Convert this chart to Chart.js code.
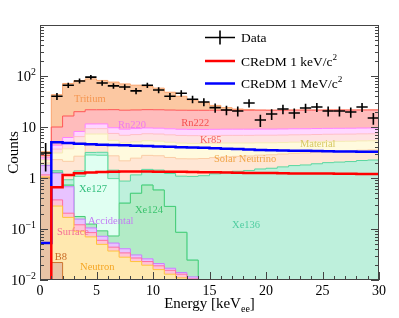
<!DOCTYPE html>
<html>
<head>
<meta charset="utf-8">
<script src="https://cdn.jsdelivr.net/npm/chart.js@4.4.1/dist/chart.umd.min.js"></script>
<style>
  html, body { margin: 0; padding: 0; background: #fff; }
</style>
</head>
<body>
<canvas id="myChart" width="399" height="318"></canvas>
<script>
// 1 keV bins, 0-30 keV
var nBins = 30;
var dataCounts = [3.1, 40, 66, 80, 95, 73, 64, 61, 51, 66, 53, 40, 46, 35, 31, 24, 21.6, 20.6, 29.5, 13.7,
                  18, 22.5, 18.8, 23.6, 24.7, 20.6, 20.6, 19.7, 24.7, 15];
var credm1keV = [0, 0.66, 1.15, 1.24, 1.28, 1.31, 1.33, 1.34, 1.34, 1.34, 1.33, 1.33, 1.32, 1.31, 1.3, 1.29,
                 1.28, 1.27, 1.26, 1.25, 1.25, 1.24, 1.23, 1.23, 1.22, 1.22, 1.21, 1.21, 1.2, 1.2];
var credm1MeV = [0.053, 5.0, 4.85, 4.7, 4.6, 4.5, 4.45, 4.38, 4.3, 4.22, 4.15, 4.08, 4.0, 3.95, 3.9, 3.82,
                 3.75, 3.7, 3.62, 3.55, 3.5, 3.47, 3.44, 3.41, 3.38, 3.35, 3.32, 3.3, 3.28, 3.26];

// background components, bottom of the stack first
var b8 = [1.0, 0.022, 0.004, 0.001, 0, 0, 0, 0, 0, 0, 0, 0, 0, 0, 0, 0, 0, 0, 0, 0, 0, 0, 0, 0, 0, 0, 0, 0, 0, 0];
var neutron = [0.05, 0.26, 0.165, 0.09, 0.07, 0.05, 0.037, 0.028, 0.023, 0.0195, 0.016, 0.013, 0.011, 0.009, 0.0075,
               0.006, 0.005, 0.004, 0.0033, 0.0027, 0.0022, 0.0018, 0.0015, 0.0012, 0.001, 0.0008, 0.0007, 0.0006, 0.0005, 0.0004];
var surface = [0.1, 0.09, 0.035, 0.03, 0.015, 0.01, 0.007, 0.006, 0.004, 0.0035, 0.003, 0.0025, 0.002, 0.0015, 0.0013,
               0.001, 0.0008, 0.0006, 0.0005, 0.0004, 0.0003, 0.0003, 0.0002, 0.0002, 0.0002, 0.0001, 0.0001, 0.0001, 0.0001, 0.0001];
var accidental = [0.6, 0.87, 0.47, 0.035, 0.02, 0.012, 0.009, 0.007, 0.004, 0.003, 0.002, 0.0015, 0.001, 0.001, 0.0008,
                  0.0006, 0.0005, 0.0004, 0.0003, 0.0003, 0.0002, 0.0002, 0.0002, 0.0001, 0.0001, 0.0001, 0.0001, 0.0001, 0.0001, 0.0001];
var xe124 = [0.005, 0.05, 0.05, 0.02, 0.02, 0.02, 0.02, 0.28, 0.47, 0.7, 0.56, 0.26, 0.072, 0.013, 0,
             0, 0, 0, 0, 0, 0, 0, 0, 0, 0, 0, 0, 0, 0, 0];
var xe127 = [0, 0, 0, 0.9, 2.7, 2.7, 0.9, 0, 0, 0, 0, 0, 0, 0, 0, 0, 0, 0, 0, 0, 0, 0, 0, 0, 0, 0, 0, 0, 0, 0];
var xe136 = [0.02, 0.1, 0.2, 0.3, 0.35, 0.4, 0.45, 0.55, 0.65, 0.75, 0.85, 0.95, 1.0, 1.05, 1.1,
             1.2, 1.3, 1.35, 1.4, 1.5, 1.55, 1.65, 1.75, 1.8, 1.9, 2.0, 2.05, 2.1, 2.2, 2.25];
var solarNu = [0.2, 0.9, 1.2, 1.3, 1.3, 1.3, 1.3, 1.3, 1.3, 1.3, 1.3, 1.3, 1.3, 1.3, 1.3,
               1.3, 1.3, 1.3, 1.3, 1.3, 1.3, 1.3, 1.3, 1.3, 1.3, 1.3, 1.3, 1.3, 1.3, 1.3];
var material = [0.2, 0.8, 1.6, 2.2, 2.8, 2.8, 2.75, 2.7, 2.65, 2.6, 2.55, 2.5, 2.45, 2.4, 2.35,
                2.3, 2.25, 2.2, 2.15, 2.1, 2.05, 2.0, 1.98, 1.95, 1.93, 1.9, 1.88, 1.86, 1.84, 1.82];
var kr85 = [0.15, 0.6, 1.2, 1.6, 2, 2, 2, 2, 2, 2, 2, 2, 2, 2, 2, 2, 2, 2, 2, 2, 2, 2, 2, 2, 2, 2, 2, 2, 2, 2];
var rn220 = [0.15, 0.7, 1.3, 1.7, 2.2, 2.2, 2.2, 2.2, 2.2, 2.2, 2.2, 2.2, 2.2, 2.2, 2.2,
             2.2, 2.2, 2.2, 2.2, 2.2, 2.2, 2.2, 2.2, 2.2, 2.2, 2.2, 2.2, 2.2, 2.2, 2.2];
var rn222 = [0.3, 5.6, 10.2, 11.8, 10.3, 10.3, 12.2, 12.3, 12.3, 12.3, 12.3, 12.3, 12.3, 12.3, 12.3,
             12.3, 12.3, 12.3, 12.3, 12.3, 12.2, 12.2, 12.2, 12.2, 12.1, 12.1, 12.1, 12.0, 12.0, 12.0];
var tritium = [0.5, 33, 55, 61, 66, 60, 54, 48.6, 44.4, 41, 36, 26.5, 18.7, 12.7, 8.7, 5.2, 2.6, 1.1, 0.5, 0,
               0, 0, 0, 0, 0, 0, 0, 0, 0, 0];

var xTicks = [0, 5, 10, 15, 20, 25, 30];
var yTicks = [0.01, 0.1, 1, 10, 100];
var yTickLabels = [['10', '\u22122'], ['10', '\u22121'], ['1', ''], ['10', ''], ['10', '2']];

// name, values, fill, line, label x (keV), label y (counts), label colour
var components = [
    ['B8', b8, 'rgb(232,196,166)', 'rgb(205,115,45)', 1.3, 0.028, 'rgb(200,105,35)'],
    ['Neutron', neutron, 'rgb(255,232,175)', 'rgb(255,195,60)', 3.55, 0.018, 'rgb(245,165,35)'],
    ['Surface', surface, 'rgb(255,195,215)', 'rgb(255,110,160)', 1.5, 0.087, 'rgb(245,110,150)'],
    ['Accidental', accidental, 'rgb(232,195,255)', 'rgb(200,125,255)', 4.25, 0.143, 'rgb(195,125,245)'],
    ['Xe124', xe124, 'rgb(178,235,198)', 'rgb(70,205,120)', 8.4, 0.236, 'rgb(60,195,110)'],
    ['Xe127', xe127, 'rgb(224,255,242)', 'rgb(95,220,160)', 3.45, 0.61, 'rgb(50,190,125)'],
    ['Xe136', xe136, 'rgb(190,240,220)', 'rgb(90,215,160)', 17.0, 0.12, 'rgb(80,205,160)'],
    ['Solar Neutrino', solarNu, 'rgb(255,230,212)', 'rgb(250,205,165)', 15.4, 2.36, 'rgb(240,165,70)'],
    ['Material', material, 'rgb(255,250,222)', 'rgb(245,235,180)', 23.0, 4.6, 'rgb(215,200,100)'],
    ['Kr85', kr85, 'rgb(255,226,226)', 'rgb(255,190,200)', 14.15, 5.56, 'rgb(245,95,95)'],
    ['Rn220', rn220, 'rgb(255,215,255)', 'rgb(255,130,255)', 6.9, 11, 'rgb(240,120,240)'],
    ['Rn222', rn222, 'rgb(255,188,188)', 'rgb(255,85,85)', 12.5, 12, 'rgb(245,80,80)'],
    ['Tritium', tritium, 'rgb(252,200,162)', 'rgb(250,165,110)', 3.0, 35, 'rgb(245,150,80)']
];

// log axis drops zeros, so empty bins get a floor far below the visible range
function steps(vals) {
    var pts = vals.map(function (v, i) { return { x: i, y: Math.max(v, 1e-6) }; });
    pts.push({ x: vals.length, y: pts[pts.length - 1].y });
    return pts;
}

var datasets = [
    { label: 'CReDM 1 keV/c2', data: steps(credm1keV), stack: 'sig1', borderColor: 'rgb(255,0,0)',
      borderWidth: 2.5, pointRadius: 0, stepped: true, fill: false },
    { label: 'CReDM 1 MeV/c2', data: steps(credm1MeV), stack: 'sig2', borderColor: 'rgb(0,0,255)',
      borderWidth: 2.5, pointRadius: 0, stepped: true, fill: false }
];
components.forEach(function (c, k) {
    datasets.push({
        label: c[0], data: steps(c[1]), stack: 'bg', backgroundColor: c[2], borderColor: c[3],
        borderWidth: 1, pointRadius: 0, stepped: true, fill: k === 0 ? 'start' : '-1'
    });
});

function supText(ctx, base, sup, x, y, size, align) {
    ctx.font = size + 'px "Liberation Serif"';
    var wb = ctx.measureText(base).width;
    ctx.font = (size * 0.68) + 'px "Liberation Serif"';
    var ws = sup ? ctx.measureText(sup).width : 0;
    var x0 = align === 'right' ? x - wb - ws : (align === 'center' ? x - (wb + ws) / 2 : x);
    ctx.textAlign = 'left';
    ctx.textBaseline = 'alphabetic';
    ctx.font = size + 'px "Liberation Serif"';
    ctx.fillText(base, x0, y);
    if (sup) {
        ctx.font = (size * 0.68) + 'px "Liberation Serif"';
        ctx.fillText(sup, x0 + wb, y - size * 0.42);
    }
}

var rootStyle = {
    id: 'rootStyle',
    afterDatasetsDraw: function (chart) {
        var ctx = chart.ctx, xs = chart.scales.x, ys = chart.scales.y;
        ctx.save();
        ctx.font = '10.5px "Liberation Serif"';
        ctx.textAlign = 'left';
        ctx.textBaseline = 'middle';
        components.forEach(function (c) {
            ctx.fillStyle = c[6];
            ctx.fillText(c[0], xs.getPixelForValue(c[4]), ys.getPixelForValue(c[5]));
        });
        // data with Poisson errors
        ctx.strokeStyle = '#000';
        ctx.lineWidth = 1.6;
        dataCounts.forEach(function (v, i) {
            var e = Math.sqrt(v);
            var yc = ys.getPixelForValue(v);
            var yl = ys.getPixelForValue(Math.max(v - e, 0.011));
            var yh = ys.getPixelForValue(v + e);
            var xc = xs.getPixelForValue(i + 0.5);
            ctx.beginPath();
            ctx.moveTo(xs.getPixelForValue(i), yc);
            ctx.lineTo(xs.getPixelForValue(i + 1), yc);
            ctx.moveTo(xc, yl);
            ctx.lineTo(xc, yh);
            ctx.stroke();
        });
        ctx.restore();
    },
    afterDraw: function (chart) {
        var ctx = chart.ctx, xs = chart.scales.x, ys = chart.scales.y, a = chart.chartArea;
        ctx.save();
        // frame
        ctx.strokeStyle = '#444';
        ctx.lineWidth = 1;
        ctx.strokeRect(a.left + 0.5, a.top + 0.5, a.right - a.left - 1, a.bottom - a.top - 1);
        // x ticks
        ctx.beginPath();
        for (var t = 0; t <= 30; t++) {
            var px = Math.round(xs.getPixelForValue(t)) + 0.5;
            var len = (t % 5 === 0) ? 8 : 4;
            ctx.moveTo(px, a.bottom);
            ctx.lineTo(px, a.bottom - len);
        }
        // y ticks (log), both sides
        for (var d = -2; d < 3; d++) {
            for (var m = 1; m <= 9; m++) {
                var val = m * Math.pow(10, d);
                var py = Math.round(ys.getPixelForValue(val)) + 0.5;
                var l = (m === 1) ? 8 : 4;
                ctx.moveTo(a.left, py); ctx.lineTo(a.left + l, py);
                ctx.moveTo(a.right, py); ctx.lineTo(a.right - l, py);
            }
        }
        ctx.stroke();
        // tick labels
        ctx.fillStyle = '#000';
        ctx.font = '14px "Liberation Serif"';
        ctx.textAlign = 'center';
        ctx.textBaseline = 'middle';
        xTicks.forEach(function (t) {
            ctx.fillText(String(t), xs.getPixelForValue(t), a.bottom + 11);
        });
        yTicks.forEach(function (t, i) {
            supText(ctx, yTickLabels[i][0], yTickLabels[i][1], a.left - 4, ys.getPixelForValue(t) + 5, 14.5, 'right');
        });
        // axis titles
        ctx.font = '15px "Liberation Serif"';
        ctx.textAlign = 'center';
        ctx.textBaseline = 'middle';
        ctx.save();
        ctx.translate(14, (a.top + a.bottom) / 2);
        ctx.rotate(-Math.PI / 2);
        ctx.fillText('Counts', 0, 0);
        ctx.restore();
        ctx.textBaseline = 'alphabetic';
        ctx.textAlign = 'left';
        var t1 = 'Energy [keV', t2 = 'ee', t3 = ']';
        ctx.font = '15px "Liberation Serif"';
        var w1 = ctx.measureText(t1).width, w3 = ctx.measureText(t3).width;
        ctx.font = '10px "Liberation Serif"';
        var w2 = ctx.measureText(t2).width;
        var x0 = (a.left + a.right) / 2 - (w1 + w2 + w3) / 2, yb = 308;
        ctx.font = '15px "Liberation Serif"';
        ctx.fillText(t1, x0, yb);
        ctx.font = '10px "Liberation Serif"';
        ctx.fillText(t2, x0 + w1, yb + 4);
        ctx.font = '15px "Liberation Serif"';
        ctx.fillText(t3, x0 + w1 + w2, yb);
        // legend
        var lx0 = 205, lx1 = 235, tx = 241;
        ctx.lineWidth = 1.6;
        ctx.strokeStyle = '#000';
        ctx.beginPath();
        ctx.moveTo(lx0, 37.5); ctx.lineTo(lx1, 37.5);
        ctx.moveTo(220, 30.5); ctx.lineTo(220, 44.5);
        ctx.stroke();
        ctx.lineWidth = 2.5;
        ctx.strokeStyle = 'rgb(255,0,0)';
        ctx.beginPath(); ctx.moveTo(lx0, 61); ctx.lineTo(lx1, 61); ctx.stroke();
        ctx.strokeStyle = 'rgb(0,0,255)';
        ctx.beginPath(); ctx.moveTo(lx0, 83.5); ctx.lineTo(lx1, 83.5); ctx.stroke();
        ctx.fillStyle = '#000';
        supText(ctx, 'Data', '', tx, 42, 13.5, 'left');
        supText(ctx, 'CReDM 1 keV/c', '2', tx, 66, 13.5, 'left');
        supText(ctx, 'CReDM 1 MeV/c', '2', tx, 88, 13.5, 'left');
        ctx.restore();
    }
};

var ctx = document.getElementById('myChart').getContext('2d');
var myChart = new Chart(ctx, {
    type: 'line',
    data: { datasets: datasets },
    options: {
        responsive: false,
        animation: false,
        layout: { padding: { left: 40, top: 25, right: 20, bottom: 38 } },
        plugins: { legend: { display: false }, tooltip: { enabled: false } },
        scales: {
            x: { type: 'linear', min: 0, max: nBins, display: false },
            y: { type: 'logarithmic', min: 0.01, max: 1000, stacked: true, display: false }
        }
    },
    plugins: [rootStyle]
});
</script>
</body>
</html>
